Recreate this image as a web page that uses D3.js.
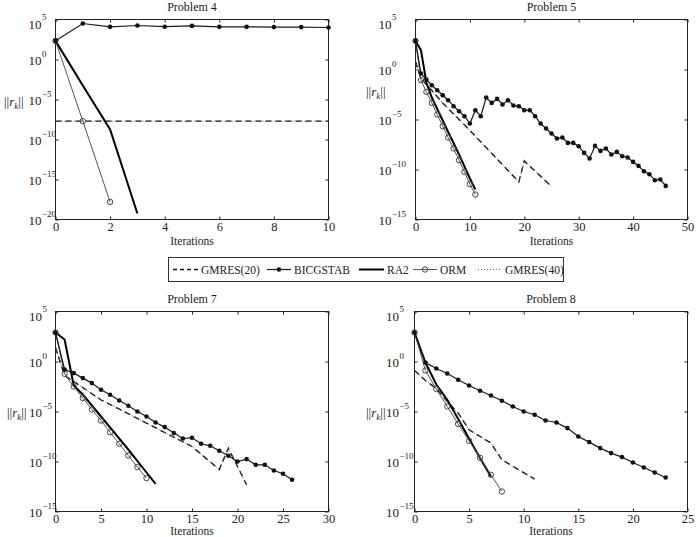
<!DOCTYPE html>
<html>
<head>
<meta charset="utf-8">
<script src="https://cdn.jsdelivr.net/npm/d3@7"></script>
<style>
  body { margin: 0; background: #fff; }
  svg text { font-family: 'Liberation Serif', 'Times New Roman', serif; fill: #222; }
</style>
</head>
<body>
<svg id="chart" width="698" height="537"></svg>
<script>
// values are log10 of the residual norm ||r_k||, index = iteration
// GMRES series are [iteration, log10] pairs read at the visible kinks

// Problem 4
let p4Bicg = [2.33, 4.5, 4.08, 4.25, 4.1, 4.2, 4.08, 4.08, 4.05, 4.05, 4.0]
let p4Ra2 = [2.33, -3.25, -8.75, -19.25]
let p4Orm = [2.33, -7.7, -17.8]
let p4Gmres20 = [[0, -7.7], [10, -7.7]]
let p4Gmres40 = [[0, -7.7], [10, -7.7]]

// Problem 5
let p5Bicg = [2.86, -0.4, -1.0, -1.57, -2.07, -2.57, -3.07, -3.67, -4.17, -4.67,
  -5.4, -4.07, -4.67, -2.8, -3.34, -2.94, -3.5, -3.07, -3.6, -3.67,
  -4.07, -4.07, -4.67, -5.4, -5.9, -6.4, -6.9, -6.8, -7.34, -7.34,
  -7.67, -8.34, -8.9, -7.64, -8.14, -7.9, -8.5, -8.24, -8.67, -8.8,
  -9.24, -9.64, -10.17, -10.47, -11.07, -11.0, -11.64]
let p5Ra2 = [2.86, 1.93, -1.3, -2.8, -3.95, -5.1, -6.25, -7.35, -8.5, -9.7, -10.9, -12.0]
let p5Orm = [2.86, -1.07, -2.24, -3.34, -4.5, -5.67, -6.8, -7.9, -9.07, -10.24, -11.47, -12.5]
let p5Gmres20 = [[0, 0.8], [1, -0.9], [5, -3.34], [10, -6.1], [19, -11.24], [20, -9.14], [25, -11.7]]
let p5Gmres40 = [[0, 0.8], [1, -0.9], [5, -3.34], [10, -6.1], [19, -11.24], [20, -9.14], [25, -11.7]]

// Problem 7
let p7Bicg = [2.9, -0.8, -1.16, -1.66, -2.16, -2.83, -3.33, -3.9, -4.43, -5.0,
  -5.5, -6.1, -6.56, -7.16, -7.7, -7.63, -8.23, -8.43, -8.93, -9.43,
  -10.0, -9.76, -10.33, -10.33, -10.9, -11.23, -11.83]
let p7Ra2 = [2.9, 2.2, -2.4, -3.3, -4.4, -5.5, -6.6, -7.7, -8.8, -9.95, -11.1, -12.23]
let p7Orm = [2.9, -1.23, -2.5, -3.66, -4.8, -5.9, -7.08, -8.23, -9.4, -10.56, -11.66]
let p7Gmres20 = [[0, 1.4], [1, -1.4], [5, -3.83], [10, -6.16], [15, -8.5], [18, -10.8], [19, -8.66], [21, -12.33]]
let p7Gmres40 = [[0, 1.4], [1, -1.4], [5, -3.83], [10, -6.16], [15, -8.5], [18, -10.8], [19, -8.66], [21, -12.33]]

// Problem 8
let p8Bicg = [2.9, -0.1, -0.7, -1.2, -1.83, -2.4, -2.93, -3.4, -3.93, -4.5,
  -5.0, -5.33, -5.9, -6.1, -6.66, -7.5, -8.06, -8.66, -9.16, -9.56,
  -10.1, -10.6, -11.1, -11.6]
let p8Ra2 = [2.9, -0.1, -2.3, -3.83, -5.76, -7.73, -9.66, -11.5]
let p8Orm = [2.9, -0.9, -2.76, -4.5, -6.25, -7.93, -9.63, -11.33, -13.0]
let p8Gmres20 = [[0, -0.9], [1, -1.9], [2, -2.7], [3, -4.0], [4, -5.16], [5, -6.83], [7, -8.16], [8, -9.83], [11, -11.76]]
let p8Gmres40 = [[0, -0.9], [1, -1.9], [2, -2.7], [3, -4.0], [4, -5.16], [5, -6.83], [7, -8.16], [8, -9.83], [11, -11.76]]

// legend order as in the figure, and which style each entry uses
let legendLabels = ['GMRES(20)', 'BICGSTAB', 'RA2', 'ORM', 'GMRES(40)']
let legendStyle = [0, 2, 3, 4, 1]

// panel layout
let panels = [
  { title: 'Problem 4', left: 55.5, top: 19.5, width: 273, height: 200, xMax: 10, xStep: 2, yMin: -20,
    labOff: 14, ylabX: 4, ylabY: 101, data: [p4Gmres20, p4Gmres40, p4Bicg, p4Ra2, p4Orm] },
  { title: 'Problem 5', left: 415.5, top: 19.5, width: 272, height: 200, xMax: 50, xStep: 10, yMin: -15,
    labOff: 24, ylabX: 366, ylabY: 91, data: [p5Gmres20, p5Gmres40, p5Bicg, p5Ra2, p5Orm] },
  { title: 'Problem 7', left: 55.5, top: 311.5, width: 273, height: 200, xMax: 30, xStep: 5, yMin: -15,
    labOff: 13.5, ylabX: 7, ylabY: 412, data: [p7Gmres20, p7Gmres40, p7Bicg, p7Ra2, p7Orm] },
  { title: 'Problem 8', left: 414.5, top: 311.5, width: 273, height: 200, xMax: 25, xStep: 5, yMin: -15,
    labOff: 15.5, ylabX: 366, ylabY: 412, data: [p8Gmres20, p8Gmres40, p8Bicg, p8Ra2, p8Orm] }
]

// line styles, same order as data: gmres20, gmres40, bicgstab, ra2, orm
let styles = [
  { stroke: '#111', width: 1.4, dash: '6,4', marker: null },
  { stroke: '#666', width: 1, dash: '1,2', marker: null },
  { stroke: '#1a1a1a', width: 1.2, dash: null, marker: 'dot' },
  { stroke: '#000', width: 2, dash: null, marker: null },
  { stroke: '#555', width: 1, dash: null, marker: 'circle' }
]

let svg = d3.select('#chart')

function toPoints(series) {
  // plain arrays are indexed by iteration
  if (Array.isArray(series[0])) return series
  return series.map((v, i) => [i, v])
}

function drawPanel(p) {
  let x = d3.scaleLinear().domain([0, p.xMax]).range([p.left, p.left + p.width])
  let y = d3.scaleLog().domain([Math.pow(10, p.yMin), 1e5]).range([p.top + p.height, p.top])
  let bottom = p.top + p.height

  let g = svg.append('g')

  // axes (inward ticks on all sides, MATLAB style)
  let xTicks = d3.range(0, p.xMax + 0.001, p.xStep)
  let decades = d3.range(p.yMin, 5.001, 5)
  let yTicks = decades.map(e => Math.pow(10, e))

  let xAxis = g.append('g')
    .attr('transform', `translate(0,${bottom})`)
    .call(d3.axisBottom(x).tickValues(xTicks).tickSize(-3).tickPadding(2.5).tickFormat(d3.format('d')))
  g.append('g')
    .attr('transform', `translate(0,${p.top})`)
    .call(d3.axisTop(x).tickValues(xTicks).tickSize(-3).tickFormat(''))
  g.append('g')
    .attr('transform', `translate(${p.left},0)`)
    .call(d3.axisLeft(y).tickValues(yTicks).tickSize(-3).tickFormat(''))
  g.append('g')
    .attr('transform', `translate(${p.left + p.width},0)`)
    .call(d3.axisRight(y).tickValues(yTicks).tickSize(-3).tickFormat(''))

  g.selectAll('.domain').remove()
  g.selectAll('.tick line').attr('stroke', '#222')
  xAxis.selectAll('text')
    .attr('font-family', null)
    .style('font-size', '12.5px')
    .attr('fill', '#222')

  // y tick labels: 10 with superscript exponent
  decades.forEach(e => {
    let ty = y(Math.pow(10, e)) + (e === 5 ? 3.5 : 0)
    g.append('text')
      .attr('x', p.left - p.labOff)
      .attr('y', ty + 5.5)
      .attr('text-anchor', 'end')
      .style('font-size', '13px')
      .text('10')
    g.append('text')
      .attr('x', p.left - p.labOff + 0.5)
      .attr('y', ty - 3)
      .style('font-size', '9px')
      .text(e < 0 ? '\u2212' + Math.abs(e) : String(e))
  })

  // box
  g.append('rect')
    .attr('x', p.left)
    .attr('y', p.top)
    .attr('width', p.width)
    .attr('height', p.height)
    .attr('fill', 'none')
    .attr('stroke', '#222')
    .attr('stroke-width', 1)

  // series
  let line = d3.line()
    .x(d => x(d[0]))
    .y(d => y(Math.pow(10, d[1])))

  let order = [0, 1, 3, 4, 2]
  order.forEach(i => {
    let s = styles[i]
    let pts = toPoints(p.data[i])
    g.append('path')
      .datum(pts)
      .attr('d', line)
      .attr('fill', 'none')
      .attr('stroke', s.stroke)
      .attr('stroke-width', s.width)
      .attr('stroke-dasharray', s.dash)

    if (s.marker === 'dot') {
      g.selectAll(null)
        .data(pts)
        .enter()
        .append('circle')
        .attr('cx', d => x(d[0]))
        .attr('cy', d => y(Math.pow(10, d[1])))
        .attr('r', 2.3)
        .attr('fill', '#111')
    }
    if (s.marker === 'circle') {
      g.selectAll(null)
        .data(pts)
        .enter()
        .append('circle')
        .attr('cx', d => x(d[0]))
        .attr('cy', d => y(Math.pow(10, d[1])))
        .attr('r', 2.7)
        .attr('fill', 'none')
        .attr('stroke', '#444')
        .attr('stroke-width', 1)
    }
  })

  // title and x label
  g.append('text')
    .attr('x', p.left + p.width / 2)
    .attr('y', p.top - 8.5)
    .attr('text-anchor', 'middle')
    .style('font-size', '12px')
    .text(p.title)

  g.append('text')
    .attr('x', p.left + p.width / 2)
    .attr('y', Math.min(bottom + 25, 534.5))
    .attr('text-anchor', 'middle')
    .style('font-size', '11.5px')
    .text('Iterations')

  // y label ||r_k||
  let yl = g.append('text')
    .attr('x', p.ylabX)
    .attr('y', p.ylabY + 4.5)
    .style('font-size', '13px')
  yl.append('tspan').text('||')
  yl.append('tspan').attr('font-style', 'italic').text('r')
  yl.append('tspan').attr('font-style', 'italic').attr('dy', 3).style('font-size', '9px').text('k')
  yl.append('tspan').attr('dy', -3).text('||')
}

panels.forEach(drawPanel)

// legend
let legend = svg.append('g')
legend.append('rect')
  .attr('x', 168.5)
  .attr('y', 257.5)
  .attr('width', 395)
  .attr('height', 24)
  .attr('fill', '#fff')
  .attr('stroke', '#333')
  .attr('stroke-width', 1)

let legendPos = [
  { x1: 173, x2: 198, tx: 201 },
  { x1: 267, x2: 291, tx: 294 },
  { x1: 359, x2: 384, tx: 387 },
  { x1: 413, x2: 437, tx: 440 },
  { x1: 478, x2: 500, tx: 505 }
]
let ly = 269.5

legendLabels.forEach((label, i) => {
  let s = styles[legendStyle[i]]
  let pos = legendPos[i]
  legend.append('line')
    .attr('x1', pos.x1)
    .attr('x2', pos.x2)
    .attr('y1', ly)
    .attr('y2', ly)
    .attr('stroke', s.stroke)
    .attr('stroke-width', s.width)
    .attr('stroke-dasharray', i === 0 ? '4,3' : s.dash)
  if (s.marker === 'dot') {
    legend.append('circle')
      .attr('cx', (pos.x1 + pos.x2) / 2).attr('cy', ly).attr('r', 2.3).attr('fill', '#111')
  }
  if (s.marker === 'circle') {
    legend.append('circle')
      .attr('cx', (pos.x1 + pos.x2) / 2).attr('cy', ly).attr('r', 2.7)
      .attr('fill', 'none').attr('stroke', '#444')
  }
  legend.append('text')
    .attr('x', pos.tx)
    .attr('y', ly + 4)
    .style('font-size', '11.5px')
    .text(label)
})
</script>
</body>
</html>
